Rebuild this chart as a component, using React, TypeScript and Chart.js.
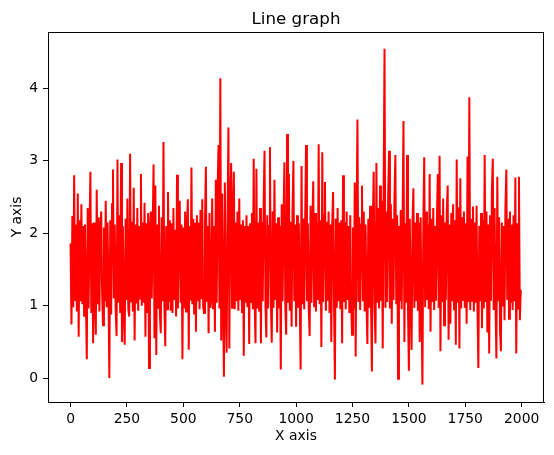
import { useEffect, useRef } from "react"
import { Chart, registerables } from "chart.js"

Chart.register(...registerables)

// one value every 4 samples (0..1999)
const sampleStep = 4
const yValues = [
  1.86, 0.74, 2.24, 0.98, 2.8, 1.08, 2.12, 0.92, 2.55, 0.57, 2.18, 1.06, 2.4, 1.02, 2.1, 0.86, 2.12, 1.1, 0.26, 2.35,
  0.96, 2.05, 2.85, 0.9, 2.14, 0.48, 2.15, 1.08, 0.6, 2.6, 1.02, 2.22, 0.92, 2.08, 2.3, 1.15, 0.73, 2.08, 1.06, 2.45,
  0.98, 2.15, 1.22, 0.0, 2.18, 0.88, 2.4, 2.88, 1.1, 2.12, 0.95, 0.58, 3.02, 1.04, 2.25, 0.9, 2.97, 0.5, 2.1, 0.94,
  0.46, 2.2, 1.08, 2.48, 0.96, 0.85, 3.1, 1.06, 2.16, 0.92, 2.63, 0.52, 2.12, 1.03, 2.35, 0.93, 2.1, 1.1, 2.82, 1.0,
  2.15, 1.04, 2.42, 0.57, 2.14, 0.9, 2.28, 0.14, 2.06, 2.3, 1.1, 2.05, 2.95, 0.55, 2.66, 0.32, 2.12, 0.97, 2.38, 0.88,
  0.62, 2.22, 1.06, 3.26, 1.0, 0.44, 2.1, 0.95, 2.57, 1.05, 2.18, 0.93, 2.14, 0.9, 2.35, 1.08, 2.05, 0.85, 2.81, 0.96,
  2.12, 2.45, 1.04, 2.12, 0.26, 2.08, 0.96, 2.3, 0.92, 2.08, 2.47, 0.39, 2.1, 1.07, 2.91, 1.02, 2.2, 0.88, 2.15, 0.64,
  2.25, 1.06, 2.15, 0.95, 2.32, 1.09, 2.47, 0.98, 0.9, 2.15, 2.92, 1.05, 2.1, 0.62, 2.28, 0.97, 1.1, 2.48, 0.95, 2.1,
  0.64, 2.74, 1.04, 2.6, 3.22, 0.96, 4.14, 0.52, 2.55, 1.06, 0.02, 2.7, 1.05, 0.35, 2.2, 3.46, 0.41, 2.4, 2.97, 0.97,
  2.35, 2.85, 0.95, 2.15, 1.06, 2.3, 0.93, 2.48, 1.08, 2.12, 0.9, 2.18, 0.31, 2.1, 1.04, 2.25, 0.98, 2.1, 0.47, 2.14,
  1.05, 2.28, 0.95, 3.03, 1.08, 0.48, 2.89, 0.96, 2.15, 0.92, 2.35, 0.48, 2.16, 1.06, 2.4, 3.14, 1.02, 0.56, 2.25, 0.96,
  2.1, 3.19, 1.05, 0.49, 2.3, 0.97, 2.74, 1.08, 2.14, 0.63, 2.22, 0.96, 2.1, 0.12, 2.4, 1.06, 2.15, 2.98, 0.99, 0.6,
  3.37, 1.04, 2.82, 0.93, 2.16, 0.71, 2.3, 3.0, 1.06, 2.12, 0.71, 2.25, 0.97, 2.14, 1.1, 0.12, 2.93, 1.02, 2.2, 0.95,
  2.15, 3.22, 1.06, 2.14, 0.96, 0.58, 2.38, 1.04, 2.1, 2.72, 0.98, 2.28, 0.92, 2.15, 1.08, 3.23, 1.02, 2.18, 0.43, 3.12,
  1.05, 2.25, 2.71, 0.93, 2.16, 1.07, 2.3, 0.9, 2.12, 0.5, 2.12, 2.57, 1.04, -0.02, 2.2, 0.97, 2.35, 1.06, 2.15, 0.95,
  2.18, 0.48, 2.8, 1.05, 2.15, 0.95, 2.3, 1.08, 2.1, 0.9, 2.25, 1.03, 0.6, 2.08, 0.96, 2.7, 0.3, 2.1, 3.57, 1.05,
  2.22, 0.94, 2.12, 2.66, 1.06, 2.3, 0.92, 2.12, 1.05, 0.47, 2.2, 0.97, 2.38, 1.08, 0.09, 2.15, 2.85, 0.98, 0.48, 2.97,
  1.04, 2.35, 0.96, 2.66, 1.07, 2.45, 0.41, 2.6, 4.55, 0.97, 2.3, 1.05, 2.52, 3.14, 0.96, 2.4, 0.75, 2.2, 1.08, 2.48,
  3.08, 1.02, 2.25, -0.01, 2.1, 1.06, 2.32, 0.95, 2.15, 3.55, 0.5, 2.14, 1.04, 3.08, 0.96, 0.1, 2.2, 1.07, 0.39, 2.16,
  2.62, 0.97, 2.15, 1.06, 2.28, 0.93, 2.15, 0.5, 2.22, 1.04, -0.09, 2.12, 3.05, 0.98, 2.3, 1.08, 2.12, 0.95, 2.82, 0.64,
  2.2, 1.05, 2.35, 0.94, 2.1, 1.07, 2.15, 2.82, 0.97, 3.07, 0.37, 2.25, 1.05, 2.48, 0.73, 2.15, 1.08, 2.3, 2.66, 0.53,
  2.12, 0.75, 2.28, 1.06, 2.4, 0.95, 2.18, 0.46, 3.02, 1.04, 2.36, 0.41, 2.76, 0.96, 2.22, 1.08, 2.3, 0.97, 2.14, 0.75,
  3.06, 1.05, 3.88, 0.94, 2.2, 1.07, 2.37, 0.92, 2.15, 1.04, 2.38, 0.98, 0.14, 2.1, 1.06, 2.28, 0.69, 2.18, 0.96, 3.08,
  1.05, 2.3, 0.63, 2.12, 0.34, 2.25, 1.07, 2.62, 3.03, 0.94, 2.35, 1.02, 0.27, 2.78, 1.06, 2.22, 0.66, 0.37, 2.15, 0.99,
  2.1, 0.8, 2.37, 2.88, 1.08, 2.2, 0.82, 2.3, 1.04, 2.12, 0.94, 2.25, 1.06, 2.77, 0.34, 2.14, 0.96, 2.78, 0.8, 1.22,
]

const xTicks = [0, 250, 500, 750, 1000, 1250, 1500, 1750, 2000]
const yTicks = [0, 1, 2, 3, 4]

const FONT = "'DejaVu Sans', sans-serif"

// full box around the plot + title centred over the axes, like matplotlib
const framePlugin = {
  id: "frame",
  afterDraw(chart: Chart) {
    const { ctx, chartArea } = chart
    ctx.save()
    ctx.strokeStyle = "#000"
    ctx.lineWidth = 1
    ctx.strokeRect(chartArea.left + 0.5, chartArea.top + 0.5, chartArea.right - chartArea.left - 1, chartArea.bottom - chartArea.top)
    ctx.fillStyle = "#000"
    ctx.font = `16.7px ${FONT}`
    ctx.textAlign = "center"
    ctx.textBaseline = "alphabetic"
    ctx.fillText("Line graph", (chartArea.left + chartArea.right) / 2, 24)
    ctx.restore()
  },
}

export default function App() {
  const chartRef = useRef<HTMLCanvasElement>(null)
  const chartInstance = useRef<Chart | null>(null)

  useEffect(() => {
    document.body.style.margin = "0"
    if (!chartRef.current) return
    if (chartInstance.current) chartInstance.current.destroy()

    const ctx = chartRef.current.getContext("2d")
    if (!ctx) return

    const points = yValues.map((y, i) => ({ x: i * sampleStep, y }))

    chartInstance.current = new Chart(ctx, {
      type: "line",
      data: {
        datasets: [
          {
            data: points,
            borderColor: "#ff0000",
            borderWidth: 2,
            pointRadius: 0,
            tension: 0,
          },
        ],
      },
      options: {
        responsive: false,
        animation: false,
        devicePixelRatio: 1,
        layout: { padding: { top: 32, right: 10, left: 0, bottom: 0 } },
        plugins: {
          legend: { display: false },
          tooltip: { enabled: false },
          title: { display: false },
        },
        scales: {
          x: {
            type: "linear",
            min: -100,
            max: 2099,
            afterFit: (scale: any) => {
              scale.height = 53
            },
            afterBuildTicks: (scale: any) => {
              scale.ticks = xTicks.map((v) => ({ value: v }))
            },
            grid: { display: true, drawOnChartArea: false, drawTicks: true, tickLength: 5, color: "#000", lineWidth: 1 },
            border: { display: true, color: "#000", width: 1 },
            ticks: {
              color: "#000",
              font: { family: FONT, size: 13.9 },
              padding: 4,
              maxRotation: 0,
              autoSkip: false,
              callback: (v: any) => String(v),
            },
            title: { display: true, text: "X axis", color: "#000", font: { family: FONT, size: 13.9 }, padding: { top: 0, bottom: 10 } },
          },
          y: {
            type: "linear",
            min: -0.33,
            max: 4.78,
            afterFit: (scale: any) => {
              scale.width = 48
            },
            afterBuildTicks: (scale: any) => {
              scale.ticks = yTicks.map((v) => ({ value: v }))
            },
            grid: { display: true, drawOnChartArea: false, drawTicks: true, tickLength: 5, color: "#000", lineWidth: 1 },
            border: { display: true, color: "#000", width: 1 },
            ticks: { color: "#000", font: { family: FONT, size: 13.9 }, padding: 5, autoSkip: false, callback: (v: any) => String(v) },
            title: { display: true, text: "Y axis", color: "#000", font: { family: FONT, size: 13.9 }, padding: { top: 9, bottom: 0 } },
          },
        },
      },
      plugins: [framePlugin],
    })

    return () => {
      if (chartInstance.current) {
        chartInstance.current.destroy()
        chartInstance.current = null
      }
    }
  }, [])

  return <canvas ref={chartRef} width={554} height={455} style={{ display: "block" }} />
}
